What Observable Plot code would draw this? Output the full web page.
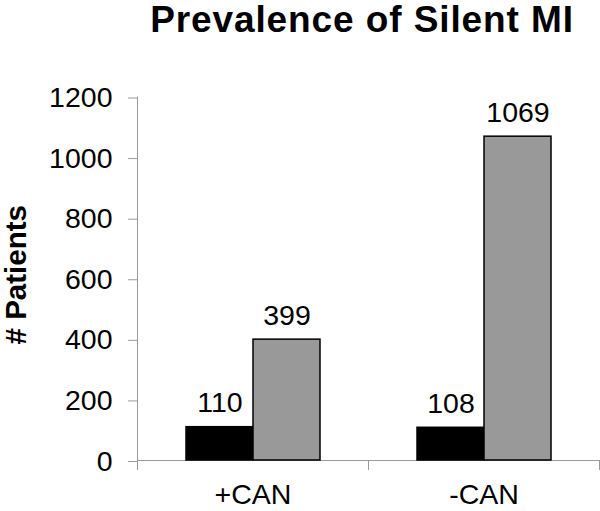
<!DOCTYPE html>
<html>
<head>
<meta charset="utf-8">
<script src="https://cdn.jsdelivr.net/npm/d3@7"></script>
<script src="https://cdn.jsdelivr.net/npm/@observablehq/plot@0.6"></script>
<style>
  html, body { margin: 0; padding: 0; background: #fff; }
  #wrap { width: 600px; height: 511px; position: relative; overflow: hidden; }
  #title {
    height: 45px; padding-left: 124px; width: 476px; text-align: center;
    font: bold 37px "Liberation Sans", Arial, sans-serif; line-height: 40px;
    letter-spacing: 0.9px; color: #000; white-space: nowrap;
  }
</style>
</head>
<body>
<div id="wrap">
  <div id="title">Prevalence of Silent MI</div>
  <div id="chart"></div>
</div>
<script>
// Data
const groups = ["+CAN", "-CAN"];
const seriesNames = ["Silent MI", "No Silent MI"];
const silentMI = [110, 108];
const noSilentMI = [399, 1069];
const yTicks = [0, 200, 400, 600, 800, 1000, 1200];
const yLabel = "# Patients";

const data = [];
groups.forEach((g, i) => {
  data.push({group: g, series: seriesNames[0], value: silentMI[i]});
  data.push({group: g, series: seriesNames[1], value: noSilentMI[i]});
});

const axisGray = "#9a9a9a";
const fs = 28.5;

const chart = Plot.plot({
  width: 600,
  height: 466,
  marginTop: 51.5,
  marginBottom: 51,
  marginLeft: 137,
  marginRight: 1,
  style: {fontFamily: "'Liberation Sans', Arial, sans-serif", fontSize: fs + "px", color: "#000", background: "#fff"},
  fx: {domain: groups, padding: 0, label: null},
  x: {domain: seriesNames, paddingInner: 0, paddingOuter: 0.71, axis: null},
  y: {domain: [0, 1200]},
  color: {domain: seriesNames, range: ["#000000", "#999999"]},
  marks: [
    Plot.axisFx({anchor: "bottom", tickSize: 0, tickPadding: 23, label: null, fontSize: fs}),
    Plot.axisY({ticks: yTicks, tickSize: 9, tickPadding: 16, stroke: axisGray, label: null, fontSize: fs, dy: 1, tickFormat: d => String(d)}),
    Plot.ruleY([0], {stroke: axisGray, strokeWidth: 1.2}),
    Plot.frame({anchor: "left", facetAnchor: "left", stroke: axisGray, insetBottom: -9}),
    Plot.frame({anchor: "left", stroke: axisGray, insetTop: 363.5, insetBottom: -9}),
    Plot.frame({anchor: "right", facetAnchor: "right", stroke: axisGray, insetTop: 363.5, insetBottom: -9}),
    Plot.barY(data, {fx: "group", x: "series", y: "value", fill: "series", stroke: "#000", strokeWidth: 1.5}),
    Plot.text(data, {fx: "group", x: "series", y: "value", text: d => String(d.value), dy: -24, fontSize: fs, fill: "#000"}),
    Plot.text([yLabel], {text: d => d, frameAnchor: "left", facetAnchor: "left", textAnchor: "middle", rotate: -90, dx: -121, dy: -4, fontSize: 29.5, fontWeight: "bold", fill: "#000"})
  ]
});
document.getElementById("chart").appendChild(chart);
</script>
</body>
</html>
